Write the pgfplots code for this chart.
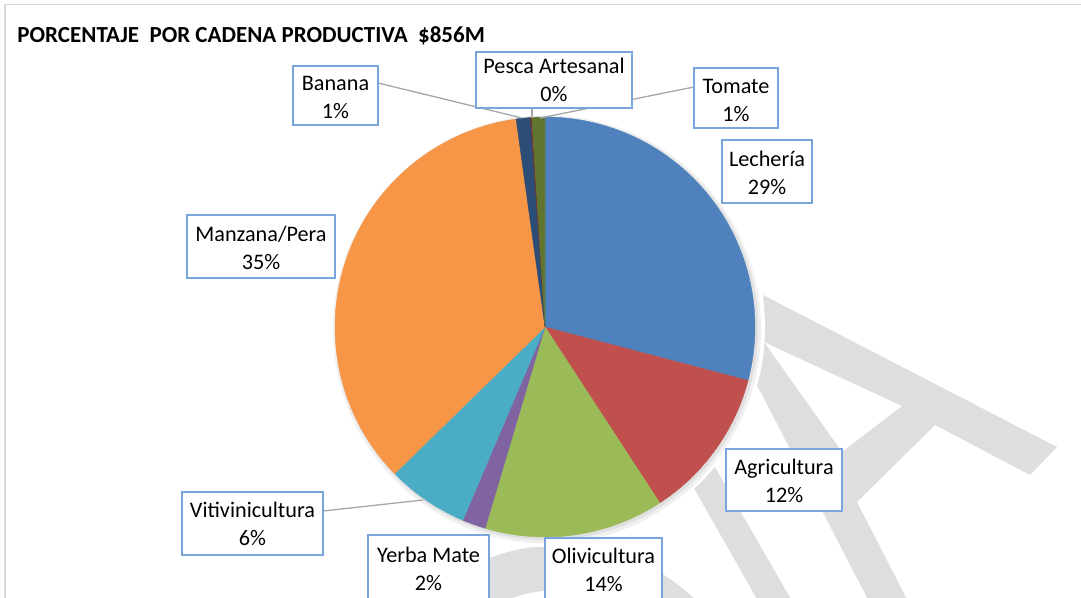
\documentclass[border=0pt]{standalone}
\usepackage{pgfplots}
\pgfplotsset{compat=1.18}
\usepackage{fontspec}
\setmainfont{Carlito}

\definecolor{lecheria}{HTML}{4F81BD}
\definecolor{agricultura}{HTML}{C0504D}
\definecolor{olivicultura}{HTML}{9BBB59}
\definecolor{yerba}{HTML}{8064A2}
\definecolor{viti}{HTML}{4BACC6}
\definecolor{manzana}{HTML}{F79646}
\definecolor{banana}{HTML}{2C4D75}
\definecolor{pesca}{HTML}{772C2A}
\definecolor{tomate}{HTML}{5F7530}
\definecolor{boxblue}{RGB}{120,165,220}
\definecolor{leadergray}{RGB}{166,166,166}
\definecolor{wmgray}{RGB}{222,222,222}
\definecolor{framegray}{RGB}{217,217,217}

% one wedge: colour, start and end as cumulative percent (clockwise from 12 o'clock)
\newcommand{\slice}[3]{%
  \addplot[draw=#1, line width=0.2pt, fill=#1, forget plot] coordinates {(545,327)}
    -- ++({90-3.6*(#2)}:105pt)
    arc[start angle={90-3.6*(#2)}, end angle={90-3.6*(#3)}, radius=105pt] -- cycle;}
\newcommand{\lab}{\fontsize{11.1}{14}\selectfont}

\begin{document}
\begin{tikzpicture}
\begin{axis}[
  x=0.5pt, y=0.5pt,
  xmin=0, xmax=1081, ymin=0, ymax=598,
  y dir=reverse, hide axis, clip=false,
  at={(0,0)}, anchor=south west,
]
% chart frame
\draw[framegray, line width=0.75pt] (axis cs:5,640) -- (axis cs:5,4.5) -- (axis cs:1120,4.5);

% watermark
\fill[wmgray, even odd rule]
  (axis cs:745,288) -- (axis cs:763,295) -- (axis cs:1057,447) -- (axis cs:1030,475)
  -- (axis cs:935,425) -- (axis cs:857,502) -- (axis cs:915,615) -- (axis cs:876,615)
  -- (axis cs:758,387) -- (axis cs:745,385) -- cycle
  (axis cs:764,342) -- (axis cs:902,406) -- (axis cs:842,452) -- cycle;
\fill[wmgray] (axis cs:680,415) -- (axis cs:715,467) -- (axis cs:800,615)
  -- (axis cs:766,615) -- (axis cs:695,490) -- (axis cs:660,440) -- cycle;
\fill[wmgray, even odd rule] (axis cs:560,740) circle (97.5pt) (axis cs:560,740) circle (75pt);

% halo and soft shadow
\fill[white] (axis cs:545,327) circle (110pt);
\fill[black!6] (axis cs:547,329.5) circle (107pt);
\fill[black!12] (axis cs:546.5,328.5) circle (105.8pt);

% slices
\slice{lecheria}{0}{29.1}
\slice{agricultura}{29.1}{40.8}
\slice{olivicultura}{40.8}{54.6}
\slice{yerba}{54.6}{56.4}
\slice{viti}{56.4}{62.7}
\slice{manzana}{62.7}{97.8}
\slice{banana}{97.8}{98.9}
\slice{pesca}{98.9}{99.0}
\slice{tomate}{99.0}{100}

% leader lines
\draw[leadergray, line width=0.65pt] (axis cs:378,83) -- (axis cs:522,118);
\draw[leadergray, line width=0.65pt] (axis cs:694,87) -- (axis cs:540,118);
\draw[leadergray, line width=0.65pt] (axis cs:532,108) -- (axis cs:532,118);
\draw[leadergray, line width=0.65pt] (axis cs:323,511) -- (axis cs:423,500);

% label boxes
\tikzset{lbox/.style={draw=boxblue, fill=white, line width=0.7pt}}
\draw[lbox] (axis cs:293,66) rectangle (axis cs:378,125);
\draw[lbox] (axis cs:476,52) rectangle (axis cs:632,108);
\draw[lbox] (axis cs:694,68) rectangle (axis cs:778,128);
\draw[lbox] (axis cs:722,140) rectangle (axis cs:812,203);
\draw[lbox] (axis cs:187,215) rectangle (axis cs:335,278);
\draw[lbox] (axis cs:726,449) rectangle (axis cs:842,511);
\draw[lbox] (axis cs:182,492) rectangle (axis cs:323,555);
\draw[lbox] (axis cs:368,535) rectangle (axis cs:489,620);
\draw[lbox] (axis cs:545,538) rectangle (axis cs:662,620);

\tikzset{ltxt/.style={font=\lab, align=center, inner sep=0pt}}
\node[ltxt] at (axis cs:335.5,97) {Banana\\1\%};
\node[ltxt] at (axis cs:554,80) {Pesca Artesanal\\0\%};
\node[ltxt] at (axis cs:736,100) {Tomate\\1\%};
\node[ltxt] at (axis cs:767,173) {Lechería\\29\%};
\node[ltxt] at (axis cs:261,248) {Manzana/Pera\\35\%};
\node[ltxt] at (axis cs:784,481) {Agricultura\\12\%};
\node[ltxt] at (axis cs:252.5,524) {Vitivinicultura\\6\%};
\node[ltxt] at (axis cs:428.5,569) {Yerba Mate\\2\%};
\node[ltxt] at (axis cs:603.5,570) {Olivicultura\\14\%};

% title
\node[anchor=base west, inner sep=0pt, font=\bfseries\fontsize{11.5}{13}\selectfont]
  at (axis cs:17,42) {PORCENTAJE\ \ POR CADENA PRODUCTIVA\ \ \$856M};
\end{axis}
\pgfresetboundingbox
\useasboundingbox (0,0) rectangle (540.5pt,299pt);
\end{tikzpicture}
\end{document}
